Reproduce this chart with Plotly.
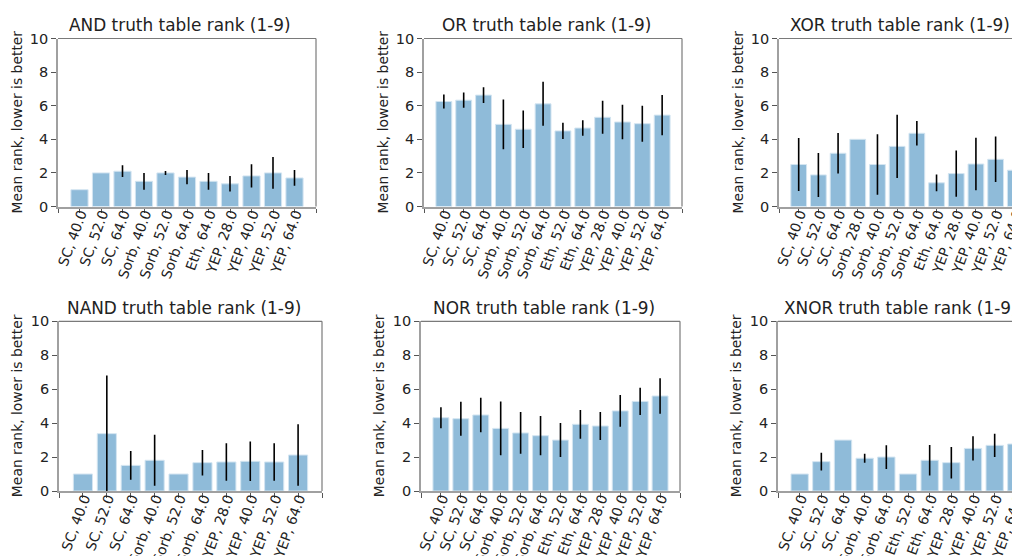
import plotly.graph_objects as go

# ---------------- data ----------------
and_labels = ["SC, 40.0", "SC, 52.0", "SC, 64.0", "Sorb, 40.0", "Sorb, 52.0", "Sorb, 64.0",
              "Eth, 64.0", "YEP, 28.0", "YEP, 40.0", "YEP, 52.0", "YEP, 64.0"]
and_mean = [1.0, 2.0, 2.1, 1.5, 2.0, 1.75, 1.5, 1.35, 1.82, 2.0, 1.7]
and_err = [0.0, 0.0, 0.35, 0.5, 0.12, 0.43, 0.5, 0.46, 0.69, 0.95, 0.47]

or_labels = ["SC, 40.0", "SC, 52.0", "SC, 64.0", "Sorb, 40.0", "Sorb, 52.0", "Sorb, 64.0",
             "Eth, 52.0", "Eth, 64.0", "YEP, 28.0", "YEP, 40.0", "YEP, 52.0", "YEP, 64.0"]
or_mean = [6.25, 6.33, 6.63, 4.89, 4.6, 6.11, 4.5, 4.67, 5.31, 5.03, 4.93, 5.44]
or_err = [0.42, 0.45, 0.47, 1.48, 1.12, 1.31, 0.48, 0.46, 0.98, 1.02, 1.07, 1.2]

xor_labels = ["SC, 40.0", "SC, 52.0", "SC, 64.0", "Sorb, 28.0", "Sorb, 40.0", "Sorb, 52.0",
              "Sorb, 64.0", "Eth, 64.0", "YEP, 28.0", "YEP, 40.0", "YEP, 52.0", "YEP, 64.0"]
xor_mean = [2.5, 1.88, 3.17, 4.0, 2.5, 3.58, 4.36, 1.41, 1.96, 2.53, 2.81, 2.16]
xor_err = [1.58, 1.31, 1.2, 0.0, 1.8, 1.88, 0.73, 0.5, 1.38, 1.56, 1.35, 0.67]

nand_labels = ["SC, 40.0", "SC, 52.0", "SC, 64.0", "Sorb, 40.0", "Sorb, 52.0", "Sorb, 64.0",
               "YEP, 28.0", "YEP, 40.0", "YEP, 52.0", "YEP, 64.0"]
nand_mean = [1.0, 3.38, 1.51, 1.81, 1.0, 1.67, 1.71, 1.75, 1.71, 2.12]
nand_err = [0.0, 3.42, 0.84, 1.5, 0.0, 0.75, 1.1, 1.16, 1.11, 1.81]

nor_labels = ["SC, 40.0", "SC, 52.0", "SC, 64.0", "Sorb, 40.0", "Sorb, 52.0", "Sorb, 64.0",
              "Eth, 52.0", "Eth, 64.0", "YEP, 28.0", "YEP, 40.0", "YEP, 52.0", "YEP, 64.0"]
nor_mean = [4.32, 4.26, 4.48, 3.69, 3.42, 3.26, 3.0, 3.93, 3.83, 4.72, 5.28, 5.6]
nor_err = [0.62, 1.0, 1.02, 1.58, 1.23, 1.16, 1.0, 0.85, 0.83, 0.94, 0.8, 1.05]

xnor_labels = ["SC, 40.0", "SC, 52.0", "SC, 64.0", "Sorb, 40.0", "Sorb, 64.0", "Eth, 52.0",
               "Eth, 64.0", "YEP, 28.0", "YEP, 40.0", "YEP, 52.0", "YEP, 64.0"]
xnor_mean = [1.0, 1.73, 3.0, 1.93, 2.0, 1.0, 1.81, 1.67, 2.51, 2.69, 2.77]
xnor_err = [0.0, 0.52, 0.0, 0.26, 0.7, 0.0, 0.9, 0.93, 0.72, 0.69, 0.42]

titles = ["AND truth table rank (1-9)", "OR truth table rank (1-9)", "XOR truth table rank (1-9)",
          "NAND truth table rank (1-9)", "NOR truth table rank (1-9)", "XNOR truth table rank (1-9)"]
y_title = "Mean rank, lower is better"
y_ticks = [0, 2, 4, 6, 8, 10]

panels = [
    (and_labels, and_mean, and_err),
    (or_labels, or_mean, or_err),
    (xor_labels, xor_mean, xor_err),
    (nand_labels, nand_mean, nand_err),
    (nor_labels, nor_mean, nor_err),
    (xnor_labels, xnor_mean, xnor_err),
]

# ---------------- layout geometry (pixels) ----------------
W, H = 1020, 556
boxes = [  # left, right (unclipped), top, bottom
    (50, 308, 30.5, 198.5),
    (416, 674, 30.5, 198.5),
    (771, 1027, 30.5, 198.5),
    (51, 314, 313.3, 483),
    (413, 672, 313.3, 483),
    (770, 1030, 313.3, 483),
]

BAR = "#8fbbd9"
FONT = "DejaVu Sans"
TXT = "#222222"

fig = go.Figure()
layout = dict(
    width=W, height=H,
    margin=dict(l=0, r=0, t=0, b=0, autoexpand=False),
    paper_bgcolor="white", plot_bgcolor="white",
    showlegend=False,
    font=dict(family=FONT, size=13.9, color=TXT),
    annotations=[], shapes=[],
)

for i, ((labels, mean, err), title, (l, r, t, b)) in enumerate(zip(panels, titles, boxes)):
    k = "" if i == 0 else str(i + 1)
    n = len(labels)
    xs = list(range(n))
    unit = (r - l) / (n + 1)
    rr = min(r, W)
    x_end = -1 + (rr - l) / unit
    fig.add_trace(go.Bar(
        x=xs, y=mean, width=0.8,
        marker=dict(color=BAR, line=dict(color="#d4e5f1", width=1)),
        error_y=dict(type="data", array=err, symmetric=True, width=0,
                     thickness=1.6, color="black"),
        xaxis="x" + k, yaxis="y" + k,
    ))
    layout["xaxis" + k] = dict(
        domain=[l / W, rr / W], anchor="y" + k,
        range=[-1, x_end], automargin=False,
        tickmode="array", tickvals=list(range(-1, n + 1)),
        ticktext=[""] + labels + [""],
        tickangle=-70, ticklabelshift=1, ticklabelstandoff=-13,
        ticks="outside", ticklen=4.9, tickwidth=1.1, tickcolor="#555555",
        showline=True, linecolor="#a0a0a0", linewidth=2,
        showgrid=False, zeroline=False,
        tickfont=dict(family=FONT, size=13.9, color=TXT),
        fixedrange=True,
    )
    layout["yaxis" + k] = dict(
        domain=[1 - b / H, 1 - t / H], anchor="x" + k,
        range=[0, 10], tickmode="array", tickvals=y_ticks, automargin=False,
        ticks="outside", ticklen=4.9, tickwidth=1.1, tickcolor="#555555",
        showline=True, linecolor="#a0a0a0", linewidth=2,
        showgrid=False, zeroline=False,
        tickfont=dict(family=FONT, size=14.5, color=TXT),
        fixedrange=True,
    )
    # top & right spines
    layout["shapes"].append(dict(type="line", xref="x" + k + " domain", yref="y" + k + " domain",
                                 x0=0, x1=1, y0=1, y1=1, line=dict(color="#7a7a7a", width=1.2)))
    if r <= W:
        layout["shapes"].append(dict(type="line", xref="x" + k + " domain", yref="y" + k + " domain",
                                     x0=1, x1=1, y0=0, y1=1, line=dict(color="#7a7a7a", width=1.2)))
    # title (centred on the unclipped axes box)
    layout["annotations"].append(dict(
        text=title, xref="paper", yref="y" + k + " domain",
        x=((l + r) / 2) / W, y=1, xanchor="center", yanchor="bottom", yshift=1, xshift=-7,
        showarrow=False, font=dict(family=FONT, size=16.9, color=TXT),
    ))
    layout["annotations"].append(dict(
        text=y_title, xref="x" + k + " domain", yref="y" + k + " domain",
        x=0, y=0.5, xshift=-42, xanchor="center", yanchor="middle", textangle=-90,
        showarrow=False, font=dict(family=FONT, size=13.9, color=TXT),
    ))

fig.update_layout(**layout)
fig.write_html("out.html")
